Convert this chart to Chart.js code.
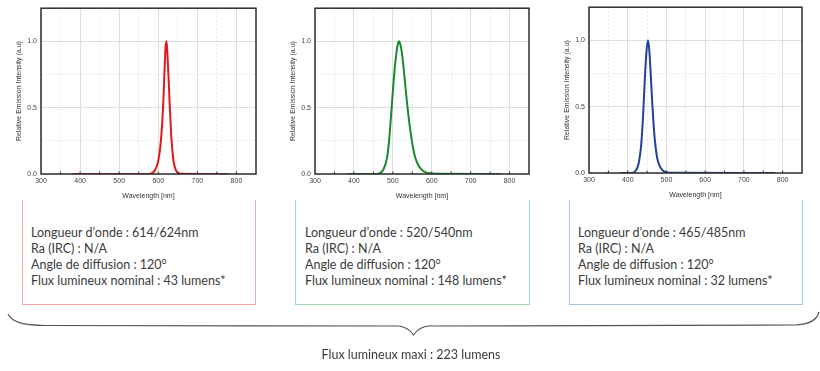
<!DOCTYPE html>
<html>
<head>
<meta charset="utf-8">
<script src="https://cdn.jsdelivr.net/npm/chart.js@4.4.0/dist/chart.umd.min.js"></script>
<style>
  body { margin: 0; width: 820px; height: 371px; background: #fff; position: relative; overflow: hidden; font-family: Lato, "Open Sans", sans-serif; }
  .chart { position: absolute; height: 200px; }
  .box { position: absolute; top: 200px; height: 105px; border: 1px solid; border-top: none; box-sizing: border-box; }
  .info { position: absolute; top: 225px; font-size: 12.5px; line-height: 16px; color: #3b3b3b; white-space: nowrap; }
  .caption { position: absolute; top: 347px; left: 0; width: 822px; text-align: center; font-size: 12.5px; color: #3b3b3b; }
  svg { position: absolute; left: 0; top: 0; }
</style>
</head>
<body>
<div class="chart" style="left:0px;top:0px;width:262px"><canvas id="redChart"></canvas></div>
<div class="chart" style="left:274px;top:0px;width:261px"><canvas id="greenChart"></canvas></div>
<div class="chart" style="left:548px;top:-1px;width:260px"><canvas id="blueChart"></canvas></div>

<div class="box" style="left:22px;width:234px;border-color:#f4a5a5"></div>
<div class="box" style="left:295px;width:235px;border-color:#a6dbb6"></div>
<div class="box" style="left:569px;width:234px;border-color:#a3c6e8"></div>

<div class="info" style="left:31px">Longueur d’onde : 614/624nm<br>Ra (IRC) : N/A<br>Angle de diffusion : 120°<br>Flux lumineux nominal : 43 lumens*</div>
<div class="info" style="left:305px">Longueur d’onde : 520/540nm<br>Ra (IRC) : N/A<br>Angle de diffusion : 120°<br>Flux lumineux nominal : 148 lumens*</div>
<div class="info" style="left:578px">Longueur d’onde : 465/485nm<br>Ra (IRC) : N/A<br>Angle de diffusion : 120°<br>Flux lumineux nominal : 32 lumens*</div>

<svg width="820" height="371">
  <path d="M8 314 C 12 322, 22 325, 45 325.5 L 398 326 C 406 326.5, 410 330, 413.5 335 C 417 330, 421 326.5, 429 326 L 795 325 C 810 324.5, 817 320, 819 312"
        fill="none" stroke="#555" stroke-width="1.2"/>
</svg>
<div class="caption">Flux lumineux maxi : 223 lumens</div>

<script>
// emission spectra (wavelength nm -> relative intensity)
const redWl  = [380, 570, 580, 588, 595, 600, 605, 610, 613, 616, 618, 620, 622, 624, 627, 630, 633, 636, 640, 645, 650, 660, 780];
const redVal = [0, 0, 0.003, 0.015, 0.05, 0.1, 0.2, 0.38, 0.55, 0.78, 0.92, 1.0, 0.97, 0.87, 0.68, 0.47, 0.3, 0.18, 0.08, 0.03, 0.01, 0.002, 0];

const greenWl  = [380, 455, 465, 475, 485, 490, 495, 500, 505, 510, 513, 516, 519, 523, 527, 531, 535, 539, 544, 550, 557, 565, 575, 585, 600, 620, 780];
const greenVal = [0, 0, 0.005, 0.03, 0.12, 0.24, 0.42, 0.62, 0.8, 0.93, 0.98, 1.0, 0.98, 0.92, 0.82, 0.7, 0.58, 0.47, 0.35, 0.23, 0.13, 0.07, 0.03, 0.012, 0.004, 0.001, 0];

const blueWl  = [380, 410, 418, 425, 430, 435, 440, 444, 448, 452, 455, 458, 462, 466, 470, 475, 480, 490, 500, 520, 780];
const blueVal = [0, 0, 0.01, 0.04, 0.1, 0.22, 0.45, 0.7, 0.9, 1.0, 0.95, 0.82, 0.6, 0.4, 0.25, 0.13, 0.07, 0.02, 0.006, 0.001, 0];

const xTicks = [300, 400, 500, 600, 700, 800];
const yTicks = [0, 0.5, 1.0];

// dark frame round the plot area
const framePlugin = {
  id: 'frame',
  afterDraw(chart) {
    const a = chart.chartArea, ctx = chart.ctx;
    ctx.save();
    ctx.strokeStyle = '#2e2e2e';
    ctx.lineWidth = 1.5;
    ctx.strokeRect(a.left, a.top, a.right - a.left, a.bottom - a.top);
    // small inward ticks on the x axis
    const xs = chart.scales.x;
    ctx.lineWidth = 1;
    for (let v = 350; v < 850; v += 50) {
      const px = xs.getPixelForValue(v);
      ctx.beginPath();
      ctx.moveTo(px, a.bottom);
      ctx.lineTo(px, a.bottom - 2.5);
      ctx.stroke();
    }
    ctx.restore();
  }
};

function makeSpectrum(id, wl, vals, color) {
  const points = wl.map((w, i) => ({ x: w, y: vals[i] }));
  new Chart(document.getElementById(id), {
    type: 'line',
    data: {
      datasets: [{
        data: points,
        borderColor: color,
        borderWidth: 2,
        pointRadius: 0,
        cubicInterpolationMode: 'monotone',
        fill: false
      }]
    },
    options: {
      responsive: true,
      maintainAspectRatio: false,
      animation: false,
      layout: { padding: { top: 7, right: 6 } },
      plugins: { legend: { display: false }, tooltip: { enabled: false } },
      scales: {
        x: {
          type: 'linear',
          min: 300, max: 850,
          afterFit: s => { s.height = 26; },
          ticks: {
            stepSize: 50,
            autoSkip: false,
            maxRotation: 0,
            padding: 3,
            font: { family: 'Liberation Sans', size: 7 },
            color: '#444',
            callback: v => xTicks.includes(v) ? v : ''
          },
          grid: {
            drawTicks: false,
            color: ctx => ctx.tick && ctx.tick.value % 100 === 0 ? '#dedede' : '#e8e8e8'
          },
          border: { display: false, dash: ctx => ctx.tick && ctx.tick.value % 100 === 0 ? [] : [2, 2] },
          title: { display: true, text: 'Wavelength [nm]', font: { family: 'Liberation Sans', size: 7 }, color: '#333', padding: { top: 2, bottom: 0 } }
        },
        y: {
          min: 0, max: 1.25,
          afterFit: s => { s.width = 41; },
          ticks: {
            stepSize: 0.25,
            padding: 4,
            font: { family: 'Liberation Sans', size: 7 },
            color: '#444',
            callback: v => yTicks.includes(v) ? v.toFixed(1) : ''
          },
          grid: {
            drawTicks: false,
            color: ctx => ctx.tick && ctx.tick.value % 0.5 === 0 ? '#dedede' : '#e8e8e8'
          },
          border: { display: false, dash: ctx => ctx.tick && ctx.tick.value % 0.5 === 0 ? [] : [2, 2] },
          title: { display: true, text: 'Relative Emission Intensity (a.u)', font: { family: 'Liberation Sans', size: 7 }, color: '#333', padding: { top: 15, bottom: 2 } }
        }
      }
    },
    plugins: [framePlugin]
  });
}

makeSpectrum('redChart', redWl, redVal, '#e3161c');
makeSpectrum('greenChart', greenWl, greenVal, '#178a2d');
makeSpectrum('blueChart', blueWl, blueVal, '#22409a');
</script>
</body>
</html>
